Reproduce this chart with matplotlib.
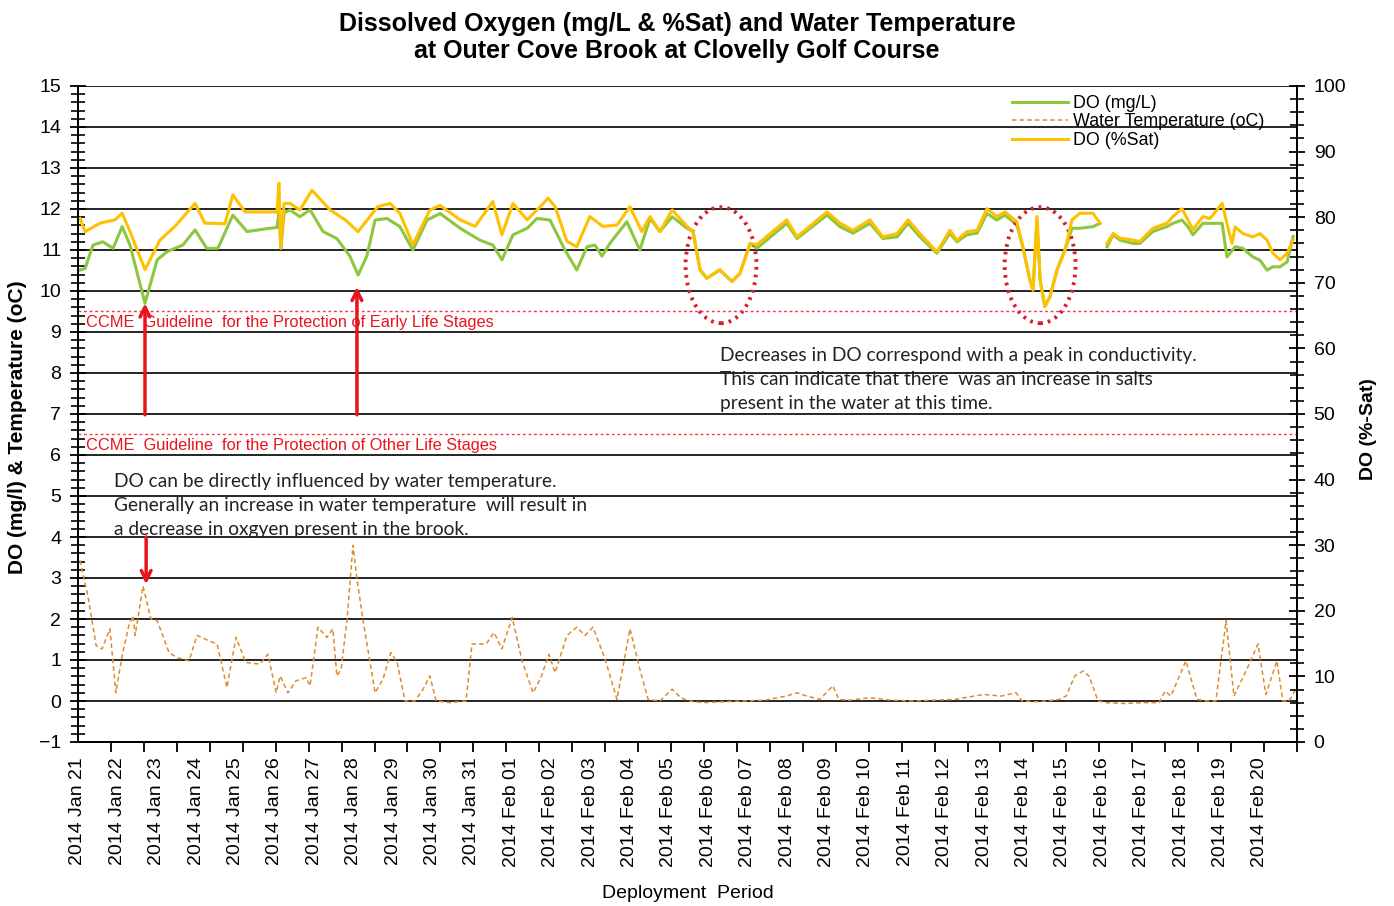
import numpy as np
import pandas as pd
import matplotlib
matplotlib.use('Agg')
import matplotlib.pyplot as plt
from matplotlib.patches import Ellipse
from matplotlib.lines import Line2D
from matplotlib.ticker import MultipleLocator

# days since 2014 Jan 21 00:00
do_mgl_day = [0.05, 0.18, 0.38, 0.63, 0.89, 1.12, 1.32, 1.70, 2.01, 2.26, 2.66, 2.97, 3.27, 3.55, 3.93, 4.29,
              4.87, 5.05, 5.10, 5.15, 5.23, 5.38, 5.63, 5.89, 6.22, 6.57, 6.90, 7.11, 7.33, 7.54, 7.84, 8.17,
              8.50, 8.86, 9.19, 9.70, 10.20, 10.53, 10.76, 11.04, 11.40, 11.65, 11.98, 12.36, 12.66, 12.92,
              13.12, 13.30, 13.50, 13.93, 14.26, 14.52, 14.77, 15.08, 15.46, 15.61, 15.79, 15.96, 16.29,
              16.60, 16.80, 17.06, 17.23, 17.99, 18.25, 19.01, 19.34, 19.67, 20.10, 20.43, 20.79, 21.07,
              21.37, 21.80, 22.13, 22.31, 22.56, 22.82, 23.07, 23.32, 23.53, 23.83, 23.98, 24.16, 24.24,
              24.34, 24.42, 24.54, 24.67, 24.85, 25.05, 25.23, 25.43, 25.76, 25.94, 26.03, 26.12, 26.27,
              26.45, 26.78, 26.95, 27.28, 27.64, 27.79, 28.02, 28.17, 28.30, 28.55, 28.73, 29.04, 29.16,
              29.37, 29.57, 29.82, 30.00, 30.18, 30.33, 30.51, 30.69, 30.84]
do_mgl = [10.51, 10.55, 11.12, 11.20, 11.04, 11.57, 11.12, 9.70, 10.76, 10.96, 11.12, 11.49, 11.04, 11.04, 11.85, 11.45,
          11.53, 11.55, 11.90, 11.04, 11.90, 11.98, 11.81, 11.98, 11.45, 11.28, 10.85, 10.39, 10.85, 11.73, 11.77, 11.57,
          11.00, 11.73, 11.89, 11.53, 11.24, 11.12, 10.76, 11.37, 11.53, 11.77, 11.73, 11.00, 10.51, 11.08,
          11.12, 10.85, 11.16, 11.69, 11.00, 11.77, 11.45, 11.81, 11.53, 11.45, 10.51, 10.31, 10.51,
          10.23, 10.43, 11.16, 11.04, 11.65, 11.28, 11.85, 11.57, 11.41, 11.65, 11.28, 11.32, 11.65,
          11.32, 10.92, 11.41, 11.20, 11.37, 11.41, 11.89, 11.73, 11.85, 11.61, 11.08, 10.27, 10.02,
          11.73, 10.27, 9.62, 9.86, 10.51, 11.00, 11.53, 11.53, 11.57, 11.65, np.nan, 11.08, 11.37,
          11.24, 11.16, 11.16, 11.45, 11.57, 11.65, 11.73, 11.57, 11.37, 11.65, 11.65, 11.65, 10.83,
          11.08, 11.04, 10.83, 10.75, 10.51, 10.59, 10.59, 10.71, 11.33]

do_sat_day = [0.05, 0.18, 0.56, 0.94, 1.12, 1.32, 1.70, 2.08, 2.46, 2.97, 3.22, 3.73, 3.93, 4.24, 4.87, 5.05,
              5.10, 5.15, 5.23, 5.38, 5.63, 5.94, 6.40, 6.78, 7.11, 7.41, 7.61, 7.92, 8.17, 8.50, 8.93, 9.19,
              9.70, 10.08, 10.53, 10.76, 11.04, 11.40, 11.73, 11.93, 12.11, 12.41, 12.66, 12.99, 13.32, 13.68,
              14.01, 14.31, 14.52, 14.77, 15.08, 15.46, 15.61, 15.79, 15.96, 16.29, 16.60, 16.80, 17.06,
              17.23, 17.99, 18.25, 19.01, 19.34, 19.67, 20.10, 20.43, 20.79, 21.07, 21.37, 21.80, 22.13,
              22.31, 22.56, 22.82, 23.07, 23.32, 23.53, 23.83, 23.98, 24.16, 24.24, 24.34, 24.42, 24.54,
              24.67, 24.85, 25.05, 25.23, 25.43, 25.76, 25.94, 26.03, 26.12, 26.27, 26.45, 26.78, 26.95,
              27.28, 27.64, 27.79, 28.02, 28.17, 28.30, 28.55, 28.73, 29.04, 29.16, 29.29, 29.37, 29.57,
              29.82, 30.00, 30.18, 30.33, 30.51, 30.69, 30.84]
do_sat = [79.8, 77.8, 79.1, 79.6, 80.6, 77.8, 72.0, 76.5, 78.6, 82.1, 79.1, 79.0, 83.4, 80.8, 80.8, 80.8,
          85.2, 75.3, 82.1, 82.1, 81.1, 84.1, 81.1, 79.6, 77.8, 80.1, 81.6, 82.1, 80.6, 75.8, 81.1, 81.8,
          79.6, 78.6, 82.4, 77.3, 82.1, 79.6, 81.6, 82.9, 81.6, 76.3, 75.5, 80.1, 78.6, 78.8,
          81.6, 77.8, 80.1, 77.8, 81.1, 78.6, 77.8, 72.0, 70.7, 72.0, 70.2, 71.4, 76.0,
          75.8, 79.6, 77.0, 80.8, 79.1, 78.0, 79.6, 77.0, 77.5, 79.6, 77.5, 74.7, 78.0,
          76.5, 77.8, 78.0, 81.3, 80.1, 80.8, 79.3, 75.5, 70.4, 68.9, 80.1, 70.4, 66.4,
          67.9, 72.0, 75.0, 79.6, 80.6, 80.6, 79.1, np.nan, 76.0, 77.5, 76.8, 76.5, 76.3,
          78.3, 79.1, 80.1, 81.3, 79.6, 78.1, 80.1, 79.8, 82.1, 79.1, 76.0, 78.5, 77.5,
          77.0, 77.5, 76.5, 74.5, 73.5, 74.5, 76.5]

temp_day = [0.05, 0.10, 0.25, 0.46, 0.61, 0.81, 0.96, 1.12, 1.29, 1.40, 1.45, 1.65, 1.85, 2.01, 2.31, 2.51,
            2.82, 3.02, 3.32, 3.53, 3.78, 4.01, 4.26, 4.62, 4.82, 5.03, 5.13, 5.33, 5.53, 5.79, 5.89, 6.09,
            6.32, 6.47, 6.57, 6.68, 6.83, 6.98, 7.08, 7.23, 7.54, 7.74, 7.94, 8.10, 8.30, 8.55, 8.76, 8.93,
            9.09, 9.44, 9.85, 10.00, 10.36, 10.56, 10.76, 11.02, 11.27, 11.55, 11.75, 11.95, 12.11, 12.41,
            12.66, 12.87, 13.07, 13.38, 13.68, 14.01, 14.26, 14.47, 14.77, 15.08, 15.30, 15.51, 15.84,
            16.37, 16.90, 17.44, 17.97, 18.25, 18.50, 18.83, 19.16, 19.31, 19.57, 20.10, 20.63, 21.19,
            21.73, 22.26, 22.99, 23.43, 23.81, 23.96, 24.39, 24.92, 25.08, 25.30, 25.51, 25.66, 25.89,
            26.09, 26.52, 27.06, 27.44, 27.59, 27.74, 28.12, 28.40, 28.65, 28.88, 29.14, 29.34, 29.67,
            29.95, 30.15, 30.43, 30.58, 30.74, 30.91]
temp = [3.43, 3.20, 2.57, 1.35, 1.27, 1.76, 0.20, 1.10, 1.84, 2.08, 1.60, 2.80, 2.00, 1.96, 1.18, 1.06,
        0.98, 1.60, 1.47, 1.39, 0.33, 1.55, 0.94, 0.90, 1.14, 0.20, 0.61, 0.20, 0.49, 0.57, 0.37, 1.80,
        1.55, 1.76, 0.61, 0.78, 2.00, 3.80, 2.98, 2.00, 0.20, 0.53, 1.18, 0.94, 0.00, 0.00, 0.29, 0.61,
        0.00, -0.04, 0.00, 1.39, 1.39, 1.67, 1.27, 2.04, 0.98, 0.20, 0.57, 1.14, 0.69, 1.60,
        1.80, 1.60, 1.80, 1.02, 0.04, 1.76, 0.78, 0.04, 0.00, 0.29, 0.08, 0.00, -0.04,
        -0.02, 0.00, 0.02, 0.12, 0.20, 0.12, 0.04, 0.37, 0.04, 0.02, 0.08, 0.02, 0.00,
        0.02, 0.04, 0.16, 0.12, 0.20, 0.00, -0.02, 0.04, 0.12, 0.61, 0.73, 0.61, 0.00,
        -0.04, -0.06, -0.04, -0.04, 0.24, 0.12, 0.98, 0.04, 0.00, 0.00, 1.96, 0.12, 0.78,
        1.39, 0.16, 0.98, 0.00, 0.00, 0.29]

tick_dates = pd.date_range('2014-01-21', '2014-02-20', freq='D')
tick_labels = [d.strftime('%Y %b %d') for d in tick_dates]

guide_early = 9.5
guide_other = 6.5

GREEN = '#8DC63F'
GOLD = '#FFC000'
ORANGE = '#E08A30'
RED = '#E8141C'

plt.rcParams['font.family'] = ['Liberation Sans', 'DejaVu Sans']

fig = plt.figure(figsize=(13.94, 9.06), dpi=100)
ax1 = fig.add_axes([78/1394, 1-742/906, 1219/1394, 656/906])
ax2 = ax1.twinx()

xmax = 30.94
ax1.set_xlim(0, xmax)
ax1.set_ylim(-1, 15)
ax2.set_ylim(0, 100)

ax1.set_yticks(np.arange(-1, 16))
ax1.yaxis.set_minor_locator(MultipleLocator(0.2))
ax1.grid(axis='y', color='black', lw=1.2)
ax1.set_axisbelow(True)
ax2.set_yticks(np.arange(0, 101, 10))
ax2.yaxis.set_minor_locator(MultipleLocator(2))

ax1.set_xticks(np.arange(len(tick_labels)))
ax1.set_xticklabels(tick_labels, rotation=90, fontsize=14)
ax1.set_xticks(np.linspace(0, xmax, 38), minor=True)
ax1.tick_params(axis='x', which='major', length=0, pad=11)
ax1.tick_params(axis='x', which='minor', length=7, width=1.3, direction='out')
ax1.tick_params(axis='y', which='major', direction='inout', length=12, width=1.3, labelsize=14, pad=6)
ax1.tick_params(axis='y', which='minor', direction='inout', length=10, width=1.2)
ax2.tick_params(axis='y', which='major', direction='inout', length=12, width=1.3, labelsize=14, pad=6)
ax2.tick_params(axis='y', which='minor', direction='inout', length=10, width=1.2)

for a in (ax1, ax2):
    for s in a.spines.values():
        s.set_linewidth(1.3)
    a.spines['top'].set_visible(False)

ax1.plot(temp_day, temp, color=ORANGE, lw=1.1, ls=(0, (3, 2)))
ax1.plot(do_mgl_day, do_mgl, color=GREEN, lw=2.2)
ax2.plot(do_sat_day, do_sat, color=GOLD, lw=2.2)

# guideline lines and labels
tr = ax1.transData
for g in (guide_early, guide_other):
    ax2.plot([0, xmax], [g, g], transform=tr, color='#FF3040', lw=1.0, ls=(0, (2, 2)))
ax2.text(0.2, 9.22, 'CCME  Guideline  for the Protection of Early Life Stages', transform=tr,
         color=RED, fontsize=11.8, va='center')
ax2.text(0.2, 6.22, 'CCME  Guideline  for the Protection of Other Life Stages', transform=tr,
         color=RED, fontsize=11.8, va='center')

# arrows
arr = dict(arrowstyle='->,head_length=0.7,head_width=0.35', color=RED, lw=2.5, shrinkA=0, shrinkB=0)
ax2.annotate('', xy=(1.70, 9.7), xytext=(1.70, 6.98), xycoords=tr, textcoords=tr, arrowprops=arr)
ax2.annotate('', xy=(7.08, 10.1), xytext=(7.08, 6.98), xycoords=tr, textcoords=tr, arrowprops=arr)
ax2.annotate('', xy=(1.73, 2.85), xytext=(1.73, 4.0), xycoords=tr, textcoords=tr, arrowprops=arr)

# ellipses
for cx in (16.32, 24.42):
    ax2.add_patch(Ellipse((cx, 10.63), 1.8, 2.83, transform=tr, fill=False,
                          edgecolor='#D81E2A', lw=2.8, ls=(0, (0.7, 1.3))))

note_font = ['Lato', 'DejaVu Sans']
ax2.text(16.3, 7.83, 'Decreases in DO correspond with a peak in conductivity.\n'
         'This can indicate that there  was an increase in salts\n'
         'present in the water at this time.', transform=tr, fontsize=13.8,
         family=note_font, va='center', ha='left', linespacing=1.5, color='#222222')
ax2.text(0.91, 4.76, 'DO can be directly influenced by water temperature.\n'
         'Generally an increase in water temperature  will result in\n'
         'a decrease in oxgyen present in the brook.', transform=tr, fontsize=13.8,
         family=note_font, va='center', ha='left', linespacing=1.5, color='#222222')

# legend
handles = [Line2D([], [], color=GREEN, lw=2.2),
           Line2D([], [], color=ORANGE, lw=1.1, ls=(0, (3, 2))),
           Line2D([], [], color=GOLD, lw=2.2)]
ax2.legend(handles, ['DO (mg/L)', 'Water Temperature (oC)', 'DO (%Sat)'], loc='upper left',
           bbox_to_anchor=(1003/1394, 1-86/906), bbox_transform=fig.transFigure, frameon=False,
           fontsize=12.9, handlelength=3.1, handletextpad=0.3, labelspacing=0.08, borderpad=0)

ax1.set_ylabel('DO (mg/l) & Temperature (oC)', fontsize=15, fontweight='bold')
ax1.yaxis.set_label_coords(-0.042, 0.48)
ax2.set_ylabel('DO (%-Sat)', fontsize=14, fontweight='bold')
ax2.yaxis.set_label_coords(1.052, 0.477)
ax1.set_xlabel('Deployment  Period', fontsize=14)
ax1.xaxis.set_label_coords(0.5, -(885-742)/656)

fig.text(677/1394, 1-37.5/906, 'Dissolved Oxygen (mg/L & %Sat) and Water Temperature\n'
         'at Outer Cove Brook at Clovelly Golf Course', ha='center', va='center',
         fontsize=18, fontweight='bold', linespacing=1.15)

fig.savefig('out.png', dpi=100)
